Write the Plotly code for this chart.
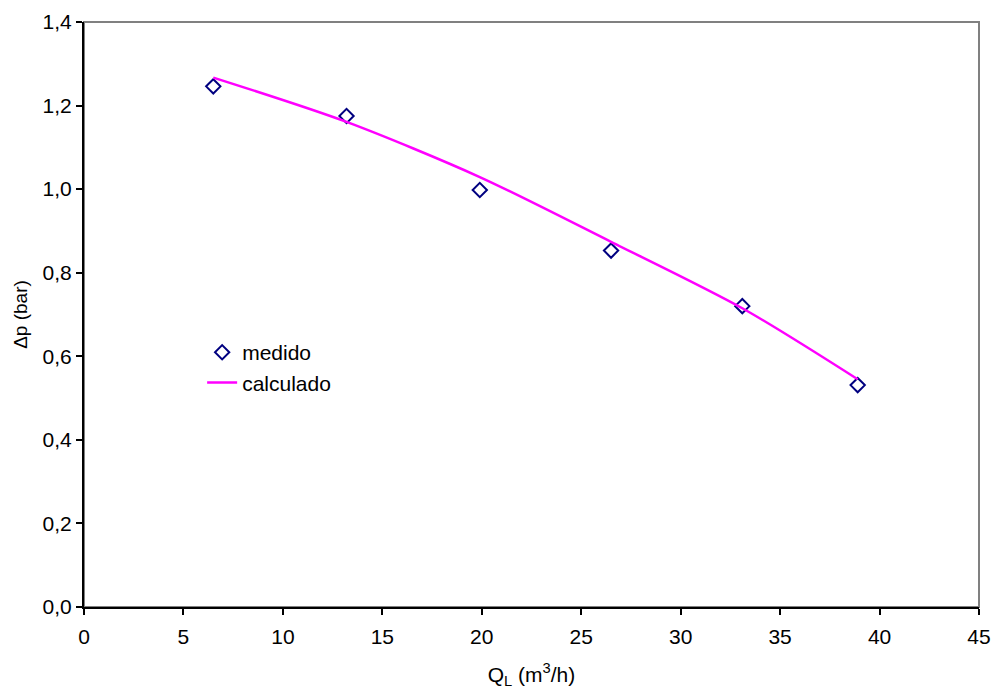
import plotly.graph_objects as go

# measured data
q_medido = [6.5, 13.2, 19.9, 26.5, 33.1, 38.9]
dp_medido = [1.246, 1.175, 0.998, 0.853, 0.720, 0.531]

# calculated curve
q_calc = [6.5, 13.2, 19.9, 26.5, 33.1, 38.9]
dp_calc = [1.267, 1.161, 1.029, 0.874, 0.715, 0.545]

x_ticks = [0, 5, 10, 15, 20, 25, 30, 35, 40, 45]
y_ticks = [0.0, 0.2, 0.4, 0.6, 0.8, 1.0, 1.2, 1.4]

FONT = "Liberation Sans, Arial, sans-serif"

fig = go.Figure()
fig.add_trace(go.Scatter(
    x=q_medido, y=dp_medido, mode="markers", name="medido",
    marker=dict(symbol="diamond-open", size=11, color="#000080",
                line=dict(width=2, color="#000080")),
))
fig.add_trace(go.Scatter(
    x=q_calc, y=dp_calc, mode="lines", name="calculado",
    line=dict(color="#FF00FF", width=2.5, shape="spline", smoothing=0.8),
))

fig.update_layout(
    width=992, height=689,
    margin=dict(l=84, r=13, t=22, b=82),
    paper_bgcolor="white", plot_bgcolor="white",
    separators=",.",
    font=dict(family=FONT, size=20, color="black"),
    showlegend=True,
    legend=dict(x=0.132, y=0.47, xanchor="left", yanchor="top",
                bgcolor="rgba(0,0,0,0)", font=dict(size=21, family=FONT),
                tracegroupgap=0),
    shapes=[dict(type="rect", xref="paper", yref="paper", x0=0, x1=1, y0=0, y1=1,
                 line=dict(color="#808080", width=2), layer="below")],
)
fig.update_xaxes(
    range=[0, 45], tickvals=x_ticks, ticks="outside", ticklen=6, tickwidth=1.5,
    tickcolor="black", showline=True, linecolor="black", linewidth=2,
    showgrid=False, zeroline=False, tickfont=dict(size=21, family=FONT),
    ticklabelstandoff=4, automargin=False,
    title=dict(text="Q<sub>L</sub> (m<sup>3</sup>/h)", font=dict(size=21, family=FONT),
               standoff=28),
)
fig.update_yaxes(
    range=[0, 1.4], tickvals=y_ticks, tickformat=".1f", ticks="outside", ticklen=6,
    tickwidth=1.5, tickcolor="black", showline=True, linecolor="black", linewidth=2,
    showgrid=False, zeroline=False, tickfont=dict(size=21, family=FONT),
    automargin=False,
    title=dict(text="Δp (bar)", font=dict(size=19, family=FONT), standoff=10),
)

fig.write_html(
    "out.html",
    config={"displayModeBar": False},
    post_script="document.body.style.margin='0';document.body.style.overflow='hidden';",
)
